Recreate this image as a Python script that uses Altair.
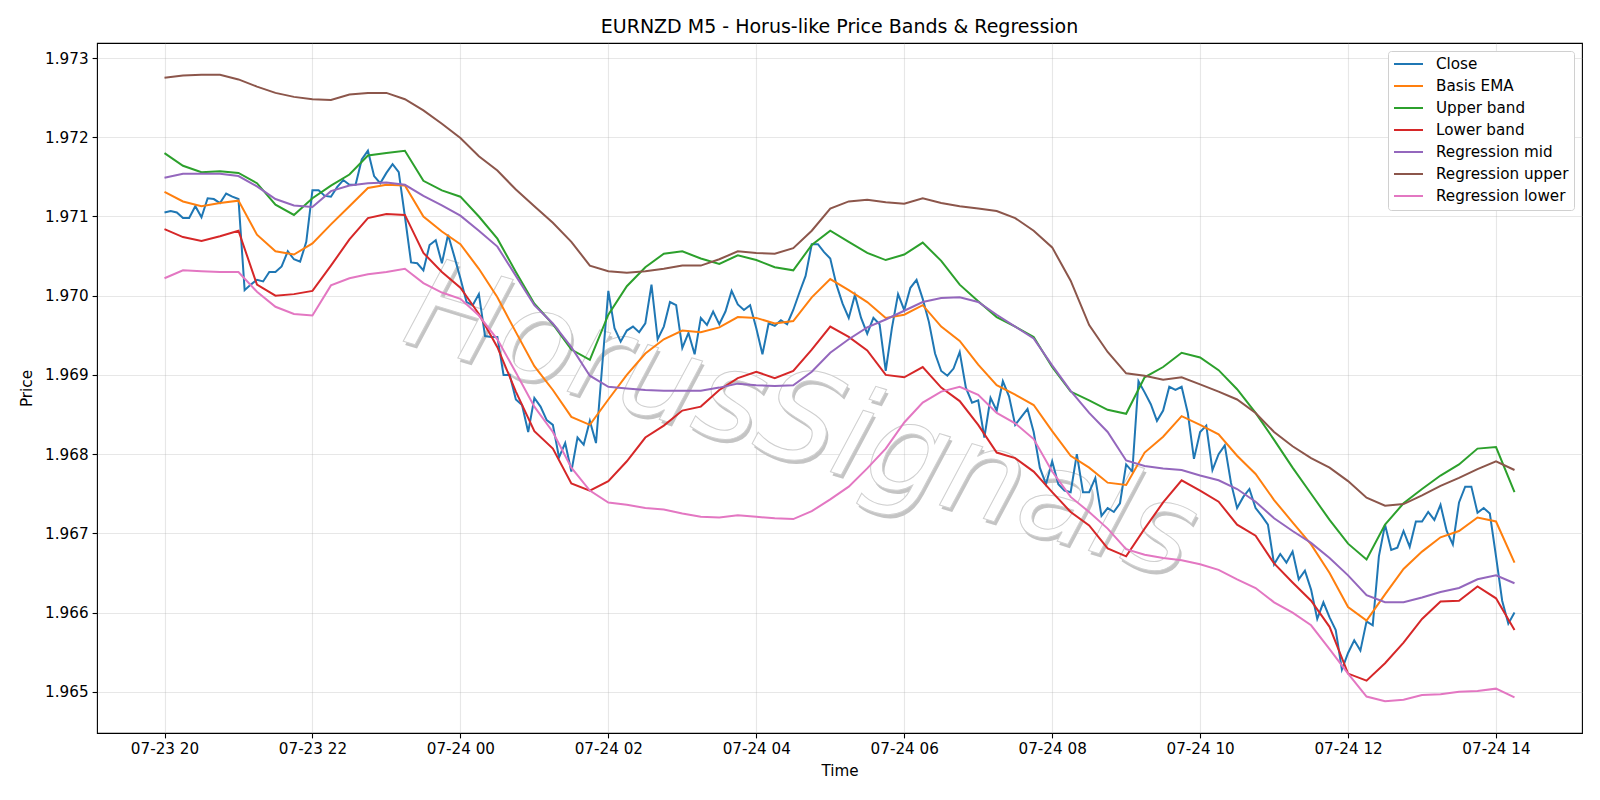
import altair as alt
import pandas as pd

START = "2024-07-23 20:00"

series_names = ["Close", "Basis EMA", "Upper band", "Lower band",
                "Regression mid", "Regression upper", "Regression lower"]
series_colors = ["#1f77b4", "#ff7f0e", "#2ca02c", "#d62728",
                 "#9467bd", "#8c564b", "#e377c2"]

# Close, every 5 minutes from 07-23 20:00
close = [
    1.97105, 1.97107, 1.97105, 1.97098, 1.97098, 1.97113, 1.97099, 1.97123, 1.97122, 1.97117,
    1.97129, 1.97125, 1.97122, 1.97007, 1.97014, 1.97020, 1.97018, 1.97030, 1.97030, 1.97037,
    1.97056, 1.97046, 1.97043, 1.97068, 1.97133, 1.97133, 1.97126, 1.97125, 1.97137, 1.97146,
    1.97140, 1.97140, 1.97172, 1.97183, 1.97151, 1.97142, 1.97155, 1.97166, 1.97156, 1.97100,
    1.97042, 1.97041, 1.97032, 1.97064, 1.97070, 1.97041, 1.97077, 1.97050, 1.97022, 1.96992,
    1.96988, 1.97002, 1.96949, 1.96948, 1.96948, 1.96900, 1.96900, 1.96869, 1.96862, 1.96828,
    1.96871, 1.96860, 1.96843, 1.96837, 1.96796, 1.96814, 1.96778, 1.96821, 1.96812, 1.96842,
    1.96814, 1.96911, 1.97006, 1.96959, 1.96942, 1.96956, 1.96961, 1.96954, 1.96965, 1.97014,
    1.96945, 1.96961, 1.96992, 1.96988, 1.96934, 1.96953, 1.96926, 1.96972, 1.96963, 1.96980,
    1.96964, 1.96980, 1.97006, 1.96989, 1.96982, 1.96988, 1.96959, 1.96926, 1.96965, 1.96962,
    1.96969, 1.96964, 1.96982, 1.97004, 1.97025, 1.97065, 1.97065, 1.97055, 1.97047, 1.97014,
    1.96990, 1.96972, 1.97001, 1.96972, 1.96952, 1.96972, 1.96964, 1.96905, 1.96959, 1.97002,
    1.96982, 1.97010, 1.97020, 1.96996, 1.96967, 1.96927, 1.96905, 1.96899, 1.96908, 1.96929,
    1.96884, 1.96865, 1.96868, 1.96821, 1.96871, 1.96855, 1.96892, 1.96873, 1.96837, 1.96847,
    1.96857, 1.96828, 1.96783, 1.96762, 1.96791, 1.96762, 1.96754, 1.96752, 1.96800, 1.96752,
    1.96752, 1.96770, 1.96722, 1.96732, 1.96727, 1.96738, 1.96787, 1.96778, 1.96892, 1.96878,
    1.96863, 1.96842, 1.96855, 1.96885, 1.96881, 1.96885, 1.96852, 1.96794, 1.96828, 1.96836,
    1.96780, 1.96800, 1.96811, 1.96764, 1.96732, 1.96746, 1.96756, 1.96732, 1.96722, 1.96711,
    1.96661, 1.96674, 1.96663, 1.96677, 1.96642, 1.96653, 1.96629, 1.96592, 1.96613, 1.96594,
    1.96578, 1.96528, 1.96549, 1.96565, 1.96552, 1.96589, 1.96584, 1.96671, 1.96711, 1.96679,
    1.96682, 1.96703, 1.96683, 1.96715, 1.96715, 1.96727, 1.96717, 1.96736, 1.96703, 1.96686,
    1.96739, 1.96759, 1.96759, 1.96726, 1.96732, 1.96725, 1.96671, 1.96615, 1.96586, 1.96600,
]

# Smoother series, read every 15 minutes from 07-23 20:00
basis_ema = [
    1.97131, 1.97119, 1.97113, 1.97117, 1.97120, 1.97077, 1.97056, 1.97052, 1.97066, 1.97090,
    1.97113, 1.97136, 1.97140, 1.97139, 1.97100, 1.97081, 1.97065, 1.97034, 1.96998, 1.96954,
    1.96911, 1.96881, 1.96847, 1.96837, 1.96869, 1.96900, 1.96927, 1.96945, 1.96956, 1.96954,
    1.96960, 1.96973, 1.96972, 1.96965, 1.96968, 1.96998, 1.97021, 1.97007, 1.96992, 1.96972,
    1.96976, 1.96988, 1.96961, 1.96943, 1.96913, 1.96887, 1.96875, 1.96862, 1.96829, 1.96798,
    1.96783, 1.96764, 1.96761, 1.96802, 1.96822, 1.96848, 1.96837, 1.96825, 1.96798, 1.96775,
    1.96742, 1.96714, 1.96686, 1.96650, 1.96607, 1.96590, 1.96623, 1.96655, 1.96677, 1.96695,
    1.96703, 1.96720, 1.96715, 1.96663,
]
upper_band = [
    1.97180, 1.97164, 1.97156, 1.97157, 1.97155, 1.97142, 1.97115, 1.97102, 1.97123, 1.97139,
    1.97153, 1.97177, 1.97180, 1.97183, 1.97145, 1.97133, 1.97125, 1.97100, 1.97072, 1.97030,
    1.96990, 1.96964, 1.96932, 1.96919, 1.96976, 1.97012, 1.97036, 1.97053, 1.97056, 1.97047,
    1.97040, 1.97051, 1.97045, 1.97036, 1.97032, 1.97064, 1.97082, 1.97068, 1.97054, 1.97045,
    1.97052, 1.97067, 1.97044, 1.97014, 1.96993, 1.96973, 1.96961, 1.96948, 1.96910, 1.96879,
    1.96868, 1.96856, 1.96851, 1.96897, 1.96910, 1.96928, 1.96922, 1.96906, 1.96882, 1.96852,
    1.96818, 1.96783, 1.96750, 1.96717, 1.96687, 1.96667, 1.96711, 1.96738, 1.96756, 1.96773,
    1.96787, 1.96807, 1.96809, 1.96752,
]
lower_band = [
    1.97084, 1.97074, 1.97069, 1.97075, 1.97082, 1.97014, 1.97000, 1.97002, 1.97006, 1.97038,
    1.97071, 1.97098, 1.97103, 1.97102, 1.97054, 1.97030, 1.97010, 1.96977, 1.96935, 1.96879,
    1.96829, 1.96807, 1.96763, 1.96754, 1.96766, 1.96791, 1.96821, 1.96836, 1.96855, 1.96860,
    1.96881, 1.96896, 1.96904, 1.96896, 1.96905, 1.96932, 1.96961, 1.96948, 1.96931, 1.96900,
    1.96897, 1.96910, 1.96884, 1.96867, 1.96837, 1.96802, 1.96795, 1.96778, 1.96752, 1.96727,
    1.96710, 1.96681, 1.96671, 1.96706, 1.96739, 1.96767, 1.96754, 1.96740, 1.96711, 1.96697,
    1.96662, 1.96638, 1.96615, 1.96582, 1.96523, 1.96514, 1.96536, 1.96562, 1.96592, 1.96614,
    1.96615, 1.96633, 1.96618, 1.96578,
]
regression_mid = [
    1.97149, 1.97154, 1.97154, 1.97154, 1.97151, 1.97138, 1.97122, 1.97114, 1.97112, 1.97132,
    1.97139, 1.97142, 1.97143, 1.97140, 1.97126, 1.97114, 1.97101, 1.97082, 1.97062, 1.97025,
    1.96988, 1.96965, 1.96935, 1.96899, 1.96885, 1.96883, 1.96881, 1.96880, 1.96880, 1.96880,
    1.96884, 1.96889, 1.96887, 1.96886, 1.96887, 1.96904, 1.96928, 1.96945, 1.96960, 1.96970,
    1.96981, 1.96992, 1.96997, 1.96998, 1.96992, 1.96976, 1.96961, 1.96946, 1.96912, 1.96880,
    1.96852, 1.96828, 1.96792, 1.96785, 1.96782, 1.96780, 1.96773, 1.96767, 1.96756, 1.96740,
    1.96719, 1.96703, 1.96688, 1.96669, 1.96647, 1.96622, 1.96613, 1.96613, 1.96619, 1.96626,
    1.96631, 1.96642, 1.96647, 1.96637,
]
regression_upper = [
    1.97275, 1.97278, 1.97279, 1.97279, 1.97273, 1.97264, 1.97256, 1.97251, 1.97248, 1.97247,
    1.97254, 1.97256, 1.97256, 1.97248, 1.97234, 1.97217, 1.97199, 1.97176, 1.97158, 1.97134,
    1.97113, 1.97092, 1.97068, 1.97038, 1.97031, 1.97029, 1.97031, 1.97034, 1.97038, 1.97038,
    1.97046, 1.97056, 1.97054, 1.97053, 1.97060, 1.97082, 1.97110, 1.97119, 1.97121, 1.97118,
    1.97116, 1.97123, 1.97117, 1.97113, 1.97110, 1.97107, 1.97098, 1.97082, 1.97061, 1.97019,
    1.96963, 1.96929, 1.96902, 1.96899, 1.96894, 1.96897, 1.96888, 1.96879, 1.96869, 1.96852,
    1.96828, 1.96810, 1.96795, 1.96783, 1.96766, 1.96745, 1.96735, 1.96737, 1.96748, 1.96760,
    1.96770, 1.96781, 1.96791, 1.96780,
]
regression_lower = [
    1.97022, 1.97032, 1.97031, 1.97030, 1.97030, 1.97005, 1.96986, 1.96977, 1.96975, 1.97013,
    1.97022, 1.97027, 1.97030, 1.97034, 1.97016, 1.97004, 1.96996, 1.96975, 1.96945, 1.96903,
    1.96860, 1.96828, 1.96783, 1.96754, 1.96739, 1.96736, 1.96732, 1.96730, 1.96725, 1.96721,
    1.96720, 1.96723, 1.96721, 1.96719, 1.96718, 1.96728, 1.96743, 1.96759, 1.96782, 1.96807,
    1.96840, 1.96865, 1.96879, 1.96885, 1.96875, 1.96852, 1.96839, 1.96819, 1.96778, 1.96746,
    1.96727, 1.96706, 1.96680, 1.96673, 1.96669, 1.96666, 1.96661, 1.96654, 1.96642, 1.96631,
    1.96613, 1.96600, 1.96584, 1.96554, 1.96523, 1.96494, 1.96488, 1.96490, 1.96496, 1.96497,
    1.96500, 1.96501, 1.96504, 1.96493,
]

y_ticks = [1.965, 1.966, 1.967, 1.968, 1.969, 1.970, 1.971, 1.972, 1.973]
x_tick_hours = [(23, 20), (23, 22), (24, 0), (24, 2), (24, 4), (24, 6), (24, 8),
                (24, 10), (24, 12), (24, 14)]

# ---- build long table ----
rows = []
t5 = pd.date_range(START, periods=len(close), freq="5min")
for t, v in zip(t5, close):
    rows.append({"time": t.strftime("%Y-%m-%dT%H:%M:%S"), "price": v, "series": "Close"})
t15 = pd.date_range(START, periods=len(basis_ema), freq="15min")
for name, vals in zip(series_names[1:], [basis_ema, upper_band, lower_band,
                                          regression_mid, regression_upper, regression_lower]):
    for t, v in zip(t15, vals):
        rows.append({"time": t.strftime("%Y-%m-%dT%H:%M:%S"), "price": v, "series": name})
df = pd.DataFrame(rows)

FONT = "DejaVu Sans"
FS = 15.2

x_scale = alt.Scale(
    domain=[alt.DateTime(year=2024, month=7, date=23, hours=19, minutes=5, seconds=15),
            alt.DateTime(year=2024, month=7, date=24, hours=15, minutes=9, seconds=45)],
    nice=False)
y_scale = alt.Scale(domain=[1.96448, 1.97319], nice=False, zero=False)

x_axis = alt.Axis(
    values=[alt.DateTime(year=2024, month=7, date=d, hours=h) for d, h in x_tick_hours],
    format="%m-%d %H", title="Time")
y_axis = alt.Axis(values=y_ticks, format=".3f", title="Price", titlePadding=10)

lines = alt.Chart(df).mark_line(strokeWidth=2, clip=True).encode(
    x=alt.X("time:T", scale=x_scale, axis=x_axis),
    y=alt.Y("price:Q", scale=y_scale, axis=y_axis),
    color=alt.Color("series:N",
                    scale=alt.Scale(domain=series_names, range=series_colors),
                    sort=series_names,
                    legend=alt.Legend(title=None, orient="top-right", offset=8,
                                      fillColor="white", strokeColor="#d0d0d0",
                                      cornerRadius=3, padding=5,
                                      labelFont=FONT, labelFontSize=FS,
                                      labelColor="black",
                                      symbolType="M-1,0H3.14",
                                      symbolStrokeWidth=2,
                                      symbolSize=196, rowPadding=5, labelOffset=27)),
)

wm = pd.DataFrame({"label": ["HorusSignals"]})
wm_shadow = alt.Chart(wm).mark_text(
    font=FONT, fontSize=125, fontStyle="italic", angle=17, align="center",
    baseline="middle", color="#c4c4c4", dx=3, dy=3,
).encode(text="label:N", x=alt.value(704), y=alt.value(380))
wm_front = alt.Chart(wm).mark_text(
    font=FONT, fontSize=125, fontStyle="italic", angle=17, align="center",
    baseline="middle", fill="white", stroke="#cfcfcf", strokeWidth=1,
).encode(text="label:N", x=alt.value(704), y=alt.value(380))

chart = alt.layer(wm_shadow, wm_front, lines).properties(
    width=1485, height=690,
    background="white",
    title=alt.Title("EURNZD M5 - Horus-like Price Bands & Regression",
                    font=FONT, fontSize=19, fontWeight="normal", anchor="middle",
                    offset=6, color="black"),
    autosize=alt.AutoSizeParams(type="none"),
    padding={"left": 97, "top": 43, "right": 18, "bottom": 67},
).configure_view(
    stroke="black", strokeWidth=1.1
).configure_axis(
    labelFont=FONT, labelFontSize=FS, labelColor="black",
    titleFont=FONT, titleFontSize=FS, titleFontWeight="normal", titleColor="black",
    tickColor="black", tickSize=4.9, tickWidth=1.1, domain=False,
    grid=True, gridColor="#b0b0b0", gridOpacity=0.3, gridWidth=1.1,
    labelPadding=4, titlePadding=6,
)

chart.save("out.html", embed_options={"renderer": "svg", "actions": False})
